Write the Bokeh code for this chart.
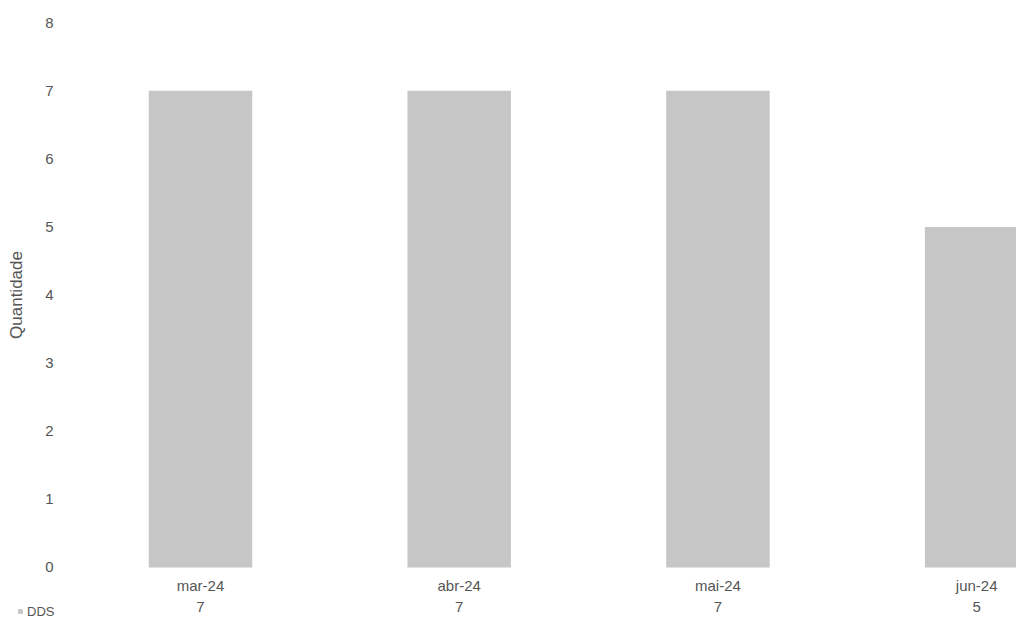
from bokeh.plotting import figure
from bokeh.models import Range1d, FixedTicker, LinearAxis
from bokeh.embed import file_html
from bokeh.resources import INLINE

categories = ["mar-24", "abr-24", "mai-24", "jun-24"]
dds = [7, 7, 7, 5]
y_ticks = [0, 1, 2, 3, 4, 5, 6, 7, 8]
series_name = "DDS"
y_label = "Quantidade"

FONT = "Liberation Sans"
TXT = "#555555"
BAR = "#c6c6c6"

xs = list(range(len(categories)))

p = figure(width=1016, height=619, output_backend="svg", toolbar_location=None,
           x_range=Range1d(-0.773, 3.154), y_range=Range1d(-0.764, 8.326),
           min_border_left=0, min_border_right=0, min_border_top=0,
           min_border_bottom=0)
p.outline_line_color = None
p.grid.visible = False
p.background_fill_color = "white"
p.border_fill_color = "white"

p.vbar(x=xs, top=dds, width=0.4, bottom=0, fill_color=BAR, line_color=None,
       legend_label=series_name)

# value axis (drawn inside the frame)
ya = p.yaxis[0]
ya.fixed_location = -0.541
ya.bounds = (0, 8)
ya.ticker = FixedTicker(ticks=y_ticks)
ya.axis_line_color = None
ya.major_tick_line_color = None
ya.minor_tick_line_color = None
ya.major_tick_out = 0
ya.major_tick_in = 0
ya.major_label_standoff = 7
ya.major_label_text_font = FONT
ya.major_label_text_font_size = "15px"
ya.major_label_text_color = TXT
ya.axis_label = y_label
ya.axis_label_text_font = FONT
ya.axis_label_text_font_size = "17px"
ya.axis_label_text_font_style = "normal"
ya.axis_label_text_color = TXT
ya.axis_label_standoff = 16

# category axis + data-table row axis
xa = p.xaxis[0]
xa.ticker = FixedTicker(ticks=xs)
xa.major_label_overrides = {i: c for i, c in zip(xs, categories)}
va = LinearAxis(ticker=FixedTicker(ticks=xs),
                major_label_overrides={i: str(v) for i, v in zip(xs, dds)})
p.add_layout(va, "below")
for ax, st in ((xa, 10), (va, 35)):
    ax.fixed_location = 0
    ax.axis_line_color = None
    ax.major_tick_line_color = None
    ax.minor_tick_line_color = None
    ax.major_tick_out = 0
    ax.major_tick_in = 0
    ax.major_label_standoff = st
    ax.major_label_text_font = FONT
    ax.major_label_text_font_size = "15px"
    ax.major_label_text_color = TXT

# legend key of the data-table row
lg = p.legend[0]
lg.location = (17, -2)
lg.padding = 0
lg.margin = 0
lg.spacing = 0
lg.glyph_width = 6
lg.glyph_height = 6
lg.label_standoff = 4
lg.label_height = 20
lg.label_text_font = FONT
lg.label_text_font_size = "13px"
lg.label_text_color = TXT
lg.background_fill_alpha = 0
lg.border_line_color = None

open("out.html", "w").write(file_html(p, INLINE))
